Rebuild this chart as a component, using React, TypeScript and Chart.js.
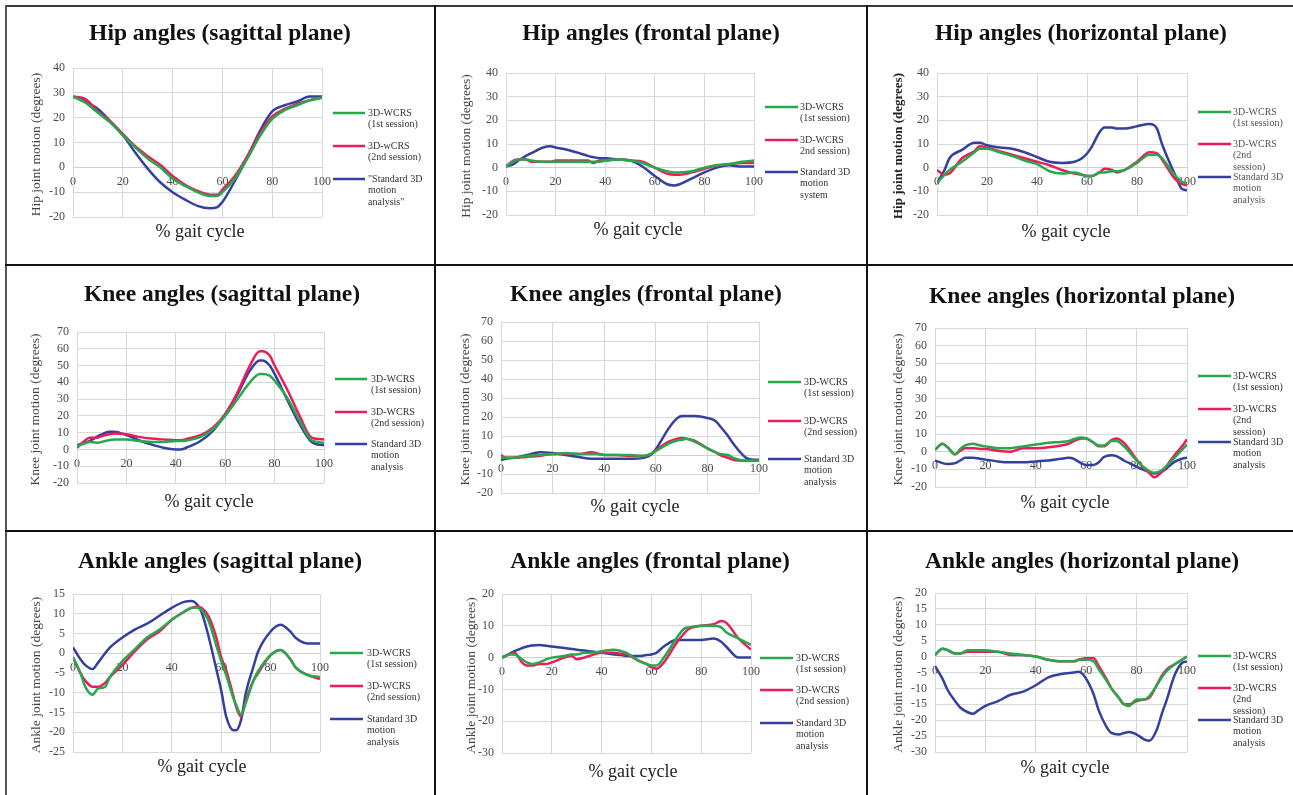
import React, { useEffect, useRef } from 'react';
import { Chart, registerables } from 'chart.js';

Chart.register(...registerables);

const GREEN = '#27a84b';
const RED = '#ee1b5c';
const BLUE = '#34409e';
const SERIF = '"Liberation Serif", "Times New Roman", serif';

// ---------------- DATA ----------------
// Hip sagittal
const hipSagX = [0, 5, 10, 15, 20, 25, 30, 35, 40, 45, 50, 55, 58, 60, 65, 70, 75, 80, 85, 90, 95, 100];
const hipSag1 = [28.5, 26, 22, 18, 13, 8, 3.5, 0, -4.5, -7.5, -10, -11.5, -11.5, -10, -4.5, 3.5, 12.5, 19.5, 23, 25, 27, 28];
const hipSag2 = [28.5, 27.5, 22.5, 18.5, 13.5, 8.5, 4.5, 1, -3.5, -7, -9.5, -11, -11, -9, -3.5, 4.5, 13.5, 20.5, 23.5, 25.5, 27, 28];
const hipSagStd = [28.5, 26.5, 23.5, 18.5, 13, 6, -0.5, -6, -10, -13, -15.5, -16.5, -16, -14, -5.5, 4, 14.5, 22.5, 25, 26.5, 28.5, 28.5];

// Hip frontal
const hipFroX = [0, 3, 5, 8, 10, 15, 18, 20, 25, 30, 33, 35, 38, 40, 45, 50, 55, 60, 65, 68, 70, 75, 80, 85, 90, 95, 100];
const hipFro1 = [0.5, 2.5, 3.5, 3.5, 3, 2.5, 2.5, 2.5, 2.5, 2.5, 2.5, 2.5, 2.5, 3, 3.5, 3, 2, 0, -1.5, -2, -2, -1.5, 0, 1, 1.5, 2.5, 3];
const hipFro2 = [0.5, 3, 3.5, 3.5, 2.5, 2.5, 2.5, 3, 3, 3, 3, 2, 3, 3, 3.5, 3, 2.5, 0, -2.5, -3, -3, -2, -0.5, 1, 1.5, 2, 2];
const hipFroStd = [0.5, 1.5, 3, 5, 6, 8.5, 9, 8.5, 7.5, 6, 5, 4.5, 4, 4, 3.5, 3, 0.5, -3.5, -7, -7.5, -7, -4.5, -2, 0, 1, 0.5, 0.5];

// Hip horizontal
const hipHorX = [0, 3, 5, 10, 15, 17, 20, 25, 30, 35, 40, 45, 50, 55, 58, 60, 62, 65, 67, 70, 72, 75, 80, 85, 88, 90, 95, 98, 100];
const hipHor1 = [-6.5, -3, -1, 2.5, 6.5, 8, 8, 6.5, 5, 3, 1.5, -1.5, -2.5, -2, -3, -3.5, -3.5, -2, -2, -1.5, -1.5, -1, 2, 5.5, 5.5, 4, -3, -6, -6.5];
const hipHor2 = [-1, -3, -2.5, 4, 7, 9, 8.5, 7, 5.5, 4, 2.5, 1, -1, -2.5, -3, -3.5, -3.5, -2, -0.5, -1, -2, -1, 2.5, 6.5, 6, 3.5, -4.5, -7, -7.5];
const hipHorStd = [-6.5, -1, 4, 7.5, 10.5, 10.5, 9.5, 8.5, 8, 6.5, 4.5, 2.5, 2, 2.5, 4, 6, 9, 15, 17, 17, 16.5, 16.5, 17.5, 18.5, 16.5, 10, -2.5, -9, -9.5];

// Knee sagittal
const kneeSagX = [0, 3, 5, 8, 10, 13, 15, 20, 25, 30, 35, 40, 42, 45, 50, 55, 60, 65, 70, 74, 75, 78, 80, 85, 90, 95, 100];
const kneeSag1 = [2, 3.5, 4.5, 4, 4.5, 5.5, 6, 6, 5, 4.5, 4.5, 5, 5, 5.5, 7.5, 12, 20, 30, 40, 45, 45, 44, 41, 31, 17.5, 5.5, 4];
const kneeSag2 = [1, 5, 7, 7, 8, 9, 9.5, 9, 7.5, 6.5, 6, 5.5, 5.5, 6.5, 8.5, 13, 21, 34, 50, 58.5, 58.5, 56, 50, 36, 20.5, 7, 6];
const kneeSagStd = [2.5, 4, 5, 7.5, 9, 10.5, 10.5, 8.5, 5.5, 3, 1, 0, 0, 1.5, 5, 11, 21, 33, 47, 53, 53, 50, 45, 30, 15.5, 4.5, 2.5];

// Knee frontal
const kneeFroX = [0, 2, 5, 10, 15, 20, 25, 30, 35, 37, 40, 45, 50, 55, 58, 60, 65, 68, 70, 72, 75, 80, 83, 85, 88, 90, 95, 98, 100];
const kneeFro1 = [-1.5, -1.5, -1.5, -0.5, 0, 0.5, 1, 0.5, 0.5, 0.5, 0, 0, 0, -0.5, 0.5, 2, 6, 7.5, 8, 8.5, 7, 3.5, 1.5, 0.5, 0, -1.5, -3, -3, -3];
const kneeFro2 = [0, -1.5, -1.5, -1, -0.5, 0.5, 0.5, 0.5, 1.5, 1, 0, 0, -0.5, -0.5, 0.5, 2.5, 7, 8.5, 9, 8.5, 7.5, 3.5, 1.5, 0, -1.5, -2.5, -3, -3, -3];
const kneeFroStd = [-2.5, -2, -1.5, 0, 1.5, 1, 0, -1, -2, -2, -2, -2, -2, -1.5, 0, 3, 14, 19, 20.5, 20.5, 20.5, 19.5, 18, 15, 10, 6, -1.5, -2.5, -2.5];

// Knee horizontal
const kneeHorX = [0, 3, 5, 8, 10, 12, 15, 18, 20, 25, 30, 35, 40, 45, 50, 53, 55, 58, 60, 63, 65, 67, 70, 72, 75, 80, 83, 85, 87, 90, 95, 98, 100];
const kneeHor1 = [1, 4.5, 2.5, -1.5, 1.5, 3.5, 4.5, 3.5, 3, 2, 2, 3, 4, 5, 5.5, 6, 7, 8, 7.5, 5, 3.5, 3.5, 6, 6, 3, -5, -9, -11, -12, -10.5, -3.5, 1, 4];
const kneeHor2 = [1, 4.5, 2.5, -1.5, 0.5, 2, 2, 1.5, 1.5, 0.5, 0, 2, 2, 2.5, 3.5, 4.5, 6, 7.5, 7.5, 5, 3, 3, 6.5, 7.5, 5, -4.5, -9.5, -12, -14.5, -11.5, -2, 3, 7];
const kneeHorStd = [-5, -6.5, -7, -6.5, -5, -3.5, -3.5, -4, -4.5, -5.5, -6, -6, -5.5, -5, -4, -3.5, -4, -6.5, -7.5, -7.5, -6, -3, -2, -2.5, -5, -8.5, -10.5, -11.5, -12.3, -11.4, -5.8, -4, -3.5];

// Ankle sagittal
const ankSagX = [0, 3, 5, 8, 10, 13, 15, 20, 25, 30, 35, 40, 45, 48, 50, 52, 55, 58, 60, 62, 65, 66, 68, 70, 73, 75, 80, 84, 88, 90, 95, 100];
const ankSag1 = [-1, -5, -8.5, -10.5, -9, -8.5, -6, -2, 1, 4, 6, 8.5, 10.5, 11.5, 11.5, 11, 8, 2, -2, -5.5, -11.5, -13, -15.5, -12.5, -7, -4.5, -0.5, 0.8, -1.5, -3.5, -5.5, -6];
const ankSag2 = [-1, -5, -7, -8.5, -8.5, -7.5, -6, -3, 0.5, 3.5, 5.5, 8.5, 10.5, 11.5, 11.8, 11.5, 9.2, 4, -1, -4.3, -11, -13.5, -16, -12, -7, -5, -0.5, 0.8, -1.5, -3.5, -5.5, -6.5];
const ankSagStd = [1.5, -1.5, -3, -4, -2.5, 0, 1.5, 4, 6, 7.5, 9.5, 11.5, 13, 13.2, 12.5, 10.5, 4, -4, -9.4, -16, -19.5, -19.5, -17, -10, -3.5, 0.5, 5.5, 7.2, 5.5, 4, 2.5, 2.5];

// Ankle frontal
const ankFroX = [0, 3, 5, 8, 10, 12, 15, 18, 20, 25, 28, 30, 33, 35, 40, 45, 48, 50, 55, 58, 60, 62, 65, 70, 73, 75, 80, 85, 88, 90, 95, 100];
const ankFro1 = [0, 1, 1, -0.5, -1.5, -2, -1.5, -0.5, 0, 0.5, 1, 1, 1.5, 1.5, 2, 2.5, 2, 1.5, -1, -2, -2.5, -2.5, 0, 6, 9, 9.5, 10, 10, 9.5, 8, 6, 4];
const ankFro2 = [0, 1, 1.5, -1.5, -2.5, -2.5, -2, -2, -1.5, 0, 0.5, -0.5, 0, 0.5, 1.5, 1.5, 1.2, 1, -1, -2, -3, -3.5, -1.5, 4.5, 7.5, 9, 10, 10.5, 11.5, 11, 6, 2.5];
const ankFroStd = [0, 1.2, 2, 3, 3.5, 3.8, 4, 3.7, 3.5, 3, 2.7, 2.5, 2.2, 2, 1.5, 1, 0.8, 0.5, 0.5, 0.8, 1, 1.5, 3.5, 5.5, 5.5, 5.5, 5.5, 6, 5, 3.5, 0, 0];

// Ankle horizontal
const ankHorX = [0, 3, 5, 8, 10, 13, 15, 17, 20, 25, 30, 35, 40, 45, 50, 55, 57, 60, 63, 65, 68, 70, 73, 75, 77, 80, 83, 85, 88, 90, 92, 95, 98, 100];
const ankHor1 = [0.5, 2.5, 2, 1, 1, 2, 2, 2, 2, 1.5, 1, 0.5, 0, -1, -1.5, -1.5, -1, -1, -1.5, -4, -7.5, -10, -13, -15, -15.5, -13.5, -13.5, -12.5, -9, -6.5, -4.5, -2.5, -1, 0];
const ankHor2 = [0.5, 2.5, 2, 1, 1, 1.5, 1.5, 1.5, 1.5, 1.5, 0.5, 0.5, 0, -1, -1.5, -1.5, -1, -0.5, -0.5, -3, -7, -10, -13, -15, -15, -14, -13.5, -13, -9, -6, -4, -2.5, -1, 0];
const ankHorStd = [-3, -7, -10.5, -14, -16, -17.5, -18, -17, -15.5, -14, -12, -11, -9, -6.5, -5.5, -5, -4.8, -7, -12, -17, -22, -24, -24.5, -24, -23.7, -24.5, -26, -26.5, -23, -18, -13.5, -6, -2, -1.5];

// Legend labels
const LEG_A = [['3D-WCRS', '(1st session)'], ['3D-WCRS', '(2nd session)'], ['Standard 3D', 'motion', 'analysis']];
const LEG_B = [['3D-WCRS', '(1st session)'], ['3D-WCRS', '(2nd', 'session)'], ['Standard 3D', 'motion', 'analysis']];
const LEG_HIP_SAG = [['3D-WCRS', '(1st session)'], ['3D-wCRS', '(2nd session)'], ['"Standard 3D', 'motion', 'analysis"']];
const LEG_HIP_FRO = [['3D-WCRS', '(1st session)'], ['3D-WCRS', '2nd session)'], ['Standard 3D', 'motion', 'system']];

// ---------------- LAYOUT ----------------
const COLS = [[7, 434], [436, 866], [868, 1293]];
const ROWS = [[7, 264], [266, 530], [532, 795]];

type P = {
  col: number; row: number;
  title: string; tx: number; ty: number;
  yTitle: string; yBold?: boolean; ytx: number;
  xtx: number; xty: number;
  plot: [number, number, number, number]; // L R T B
  yMin: number; yMax: number; yStep: number;
  x: number[]; s1: number[]; s2: number[]; s3: number[];
  legend: string[][]; lx1: number; lx2: number; ltx: number; ly: number[];
  legendColor?: string;
};

const PANELS: P[] = [
  { col: 0, row: 0, title: 'Hip angles (sagittal plane)', tx: 220, ty: 34, yTitle: 'Hip joint motion (degrees)', ytx: 36, xtx: 200, xty: 232,
    plot: [73, 322, 68, 217], yMin: -20, yMax: 40, yStep: 10, x: hipSagX, s1: hipSag1, s2: hipSag2, s3: hipSagStd,
    legend: LEG_HIP_SAG, lx1: 333, lx2: 365, ltx: 368, ly: [113, 146, 179] },
  { col: 1, row: 0, title: 'Hip angles (frontal plane)', tx: 651, ty: 34, yTitle: 'Hip joint motion (degrees)', ytx: 466, xtx: 638, xty: 230,
    plot: [506, 754, 73, 215], yMin: -20, yMax: 40, yStep: 10, x: hipFroX, s1: hipFro1, s2: hipFro2, s3: hipFroStd,
    legend: LEG_HIP_FRO, lx1: 765, lx2: 798, ltx: 800, ly: [107, 140, 172] },
  { col: 2, row: 0, title: 'Hip angles (horizontal plane)', tx: 1081, ty: 34, yTitle: 'Hip joint motion (degrees)', yBold: true, ytx: 899, xtx: 1066, xty: 232,
    plot: [937, 1187, 73, 215], yMin: -20, yMax: 40, yStep: 10, x: hipHorX, s1: hipHor1, s2: hipHor2, s3: hipHorStd,
    legend: LEG_B, lx1: 1198, lx2: 1231, ltx: 1233, ly: [112, 144, 177], legendColor: '#555' },
  { col: 0, row: 1, title: 'Knee angles (sagittal plane)', tx: 222, ty: 295, yTitle: 'Knee joint motion (degrees)', ytx: 35, xtx: 209, xty: 502,
    plot: [77, 324, 332, 483], yMin: -20, yMax: 70, yStep: 10, x: kneeSagX, s1: kneeSag1, s2: kneeSag2, s3: kneeSagStd,
    legend: LEG_A, lx1: 335, lx2: 367, ltx: 371, ly: [379, 412, 444] },
  { col: 1, row: 1, title: 'Knee angles (frontal plane)', tx: 646, ty: 295, yTitle: 'Knee joint motion (degrees)', ytx: 465, xtx: 635, xty: 507,
    plot: [501, 759, 322, 493], yMin: -20, yMax: 70, yStep: 10, x: kneeFroX, s1: kneeFro1, s2: kneeFro2, s3: kneeFroStd,
    legend: LEG_A, lx1: 768, lx2: 801, ltx: 804, ly: [382, 421, 459] },
  { col: 2, row: 1, title: 'Knee angles (horizontal plane)', tx: 1082, ty: 297, yTitle: 'Knee joint motion (degrees)', ytx: 898, xtx: 1065, xty: 503,
    plot: [935, 1187, 328, 487], yMin: -20, yMax: 70, yStep: 10, x: kneeHorX, s1: kneeHor1, s2: kneeHor2, s3: kneeHorStd,
    legend: LEG_B, lx1: 1198, lx2: 1231, ltx: 1233, ly: [376, 409, 442] },
  { col: 0, row: 2, title: 'Ankle angles (sagittal plane)', tx: 220, ty: 562, yTitle: 'Ankle joint motion (degrees)', ytx: 36, xtx: 202, xty: 767,
    plot: [73, 320, 594, 752], yMin: -25, yMax: 15, yStep: 5, x: ankSagX, s1: ankSag1, s2: ankSag2, s3: ankSagStd,
    legend: LEG_A, lx1: 330, lx2: 363, ltx: 367, ly: [653, 686, 719] },
  { col: 1, row: 2, title: 'Ankle angles (frontal plane)', tx: 650, ty: 562, yTitle: 'Ankle joint motion (degrees)', ytx: 471, xtx: 633, xty: 772,
    plot: [502, 751, 594, 753], yMin: -30, yMax: 20, yStep: 10, x: ankFroX, s1: ankFro1, s2: ankFro2, s3: ankFroStd,
    legend: LEG_A, lx1: 760, lx2: 793, ltx: 796, ly: [658, 690, 723] },
  { col: 2, row: 2, title: 'Ankle angles (horizontal plane)', tx: 1082, ty: 562, yTitle: 'Ankle joint motion (degrees)', ytx: 898, xtx: 1065, xty: 768,
    plot: [935, 1187, 593, 752], yMin: -30, yMax: 20, yStep: 5, x: ankHorX, s1: ankHor1, s2: ankHor2, s3: ankHorStd,
    legend: LEG_B, lx1: 1198, lx2: 1231, ltx: 1233, ly: [656, 688, 720] },
];

const COLORS = [GREEN, RED, BLUE];

function makeDecor(p: P, ox: number, oy: number) {
  return {
    id: 'decor',
    afterDraw(chart: any) {
      const ctx = chart.ctx as CanvasRenderingContext2D;
      const area = chart.chartArea;
      ctx.save();
      ctx.textAlign = 'center';
      ctx.textBaseline = 'middle';
      ctx.fillStyle = '#111';
      ctx.font = `bold 23.5px ${SERIF}`;
      ctx.fillText(p.title, p.tx - ox, p.ty - oy);
      ctx.font = `18px ${SERIF}`;
      ctx.fillStyle = '#222';
      ctx.fillText('% gait cycle', p.xtx - ox, p.xty - oy);
      ctx.save();
      ctx.translate(p.ytx - ox, (area.top + area.bottom) / 2 + 2);
      ctx.rotate(-Math.PI / 2);
      ctx.font = `${p.yBold ? 'bold 13px' : '13.5px'} ${SERIF}`;
      ctx.fillStyle = p.yBold ? '#222' : '#444';
      ctx.fillText(p.yTitle, 0, 0);
      ctx.restore();
      // legend
      ctx.textAlign = 'left';
      ctx.font = `10px ${SERIF}`;
      p.legend.forEach((lines, i) => {
        const y = p.ly[i] - oy;
        ctx.strokeStyle = COLORS[i];
        ctx.lineWidth = 2.5;
        ctx.beginPath();
        ctx.moveTo(p.lx1 - ox, y);
        ctx.lineTo(p.lx2 - ox, y);
        ctx.stroke();
        ctx.fillStyle = p.legendColor || '#333';
        lines.forEach((t, j) => ctx.fillText(t, p.ltx - ox, y + j * 11.7));
      });
      ctx.restore();
    },
  };
}

function Panel({ p }: { p: P }) {
  const ref = useRef<HTMLCanvasElement | null>(null);
  const [cx0, cx1] = COLS[p.col];
  const [cy0, cy1] = ROWS[p.row];
  const w = cx1 - cx0;
  const h = cy1 - cy0;
  useEffect(() => {
    if (!ref.current) return;
    const [L, R, T, B] = p.plot;
    const yW = L - cx0;
    const names = p.legend.map((l) => l.join(' '));
    const series = [p.s1, p.s2, p.s3];
    const chart = new Chart(ref.current, {
      type: 'line',
      data: {
        datasets: series.map((s, i) => ({
          label: names[i],
          data: p.x.map((xv, k) => ({ x: xv, y: s[k] })),
          borderColor: COLORS[i],
          backgroundColor: COLORS[i],
          borderWidth: 2.5,
          pointRadius: 0,
          cubicInterpolationMode: 'monotone' as const,
          fill: false,
        })),
      },
      options: {
        responsive: false,
        animation: false,
        events: [],
        layout: { padding: { left: 0, right: cx1 - R, top: T - cy0, bottom: cy1 - B } },
        plugins: { legend: { display: false }, title: { display: false }, tooltip: { enabled: false } },
        scales: {
          x: {
            type: 'linear',
            position: { y: 0 } as any,
            min: 0,
            max: 100,
            grid: { color: '#d9d9d9', drawTicks: false, lineWidth: 1 },
            border: { color: '#d0d0d0', width: 1 },
            ticks: { stepSize: 20, padding: 7, color: '#4a4a4a', autoSkip: false, font: { family: SERIF, size: 12 }, maxRotation: 0 },
          },
          y: {
            type: 'linear',
            position: 'left',
            min: p.yMin,
            max: p.yMax,
            grid: { color: '#d9d9d9', drawTicks: false, lineWidth: 1 },
            border: { color: '#d9d9d9', width: 1 },
            ticks: { stepSize: p.yStep, padding: 8, color: '#4a4a4a', autoSkip: false, font: { family: SERIF, size: 12 } },
            afterFit: (s: any) => { s.width = yW; },
          },
        },
      },
      plugins: [makeDecor(p, cx0, cy0)],
    });
    return () => chart.destroy();
  }, []);
  return (
    <canvas
      ref={ref}
      width={w}
      height={h}
      style={{ position: 'absolute', left: cx0, top: cy0, width: w, height: h, display: 'block' }}
    />
  );
}

export default function App() {
  const line = (s: React.CSSProperties) => <div style={{ position: 'absolute', ...s }} />;
  return (
    <div style={{ position: 'absolute', left: 0, top: 0, width: 1293, height: 795, background: '#fff', overflow: 'hidden' }}>
      {PANELS.map((p, i) => <Panel key={i} p={p} />)}
      {line({ left: 5, top: 5, width: 1288, height: 2, background: '#3a3a3a' })}
      {line({ left: 5, top: 5, width: 2, height: 790, background: '#555' })}
      {line({ left: 434, top: 5, width: 2, height: 790, background: '#111' })}
      {line({ left: 866, top: 5, width: 2, height: 790, background: '#111' })}
      {line({ left: 5, top: 264, width: 1288, height: 2, background: '#111' })}
      {line({ left: 5, top: 530, width: 1288, height: 2, background: '#111' })}
    </div>
  );
}
